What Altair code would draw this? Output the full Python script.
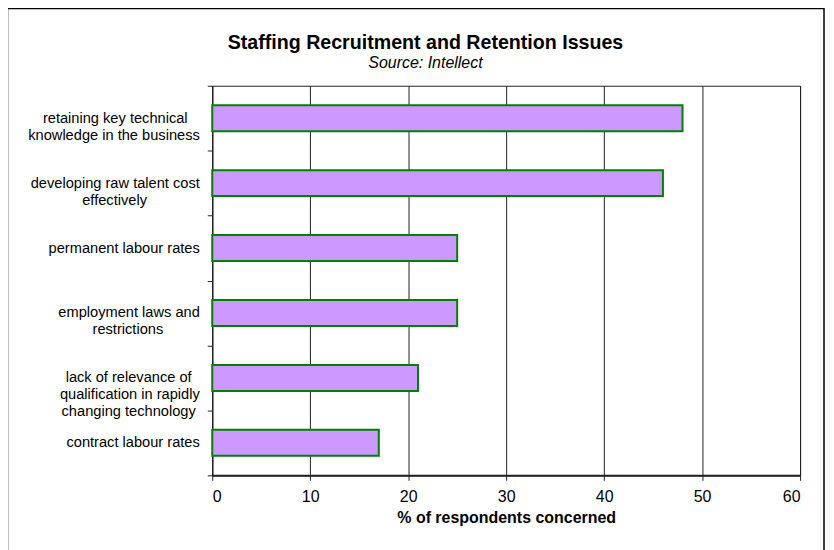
import json
import altair as alt
import pandas as pd

categories = [
    "retaining key technical|knowledge in the business",
    "developing raw talent cost|effectively",
    "permanent labour rates",
    "employment laws and|restrictions",
    "lack of relevance of|qualification in rapidly|changing technology",
    "contract labour rates",
]
values = [48, 46, 25, 25, 21, 17]
x_ticks = [0, 10, 20, 30, 40, 50, 60]
title_text = "Staffing Recruitment and Retention Issues"
subtitle_text = "Source: Intellect"
x_title = "% of respondents concerned"

FONT = "Liberation Sans"

# Approximate Arial/Liberation Sans glyph widths (1/1000 em) used to
# centre the lines of a multi-line label inside its right-aligned block.
_W = {" ": 278, "a": 556, "b": 556, "c": 500, "d": 556, "e": 556, "f": 278,
      "g": 556, "h": 556, "i": 222, "j": 222, "k": 500, "l": 222, "m": 833,
      "n": 556, "o": 556, "p": 556, "q": 556, "r": 333, "s": 500, "t": 278,
      "u": 556, "v": 500, "w": 722, "x": 500, "y": 500, "z": 500}


def _width(s):
    return sum(_W.get(c, 556) for c in s)


def centred_label(label):
    lines = label.split("|")
    widest = max(_width(l) for l in lines)
    out = []
    for l in lines:
        pad = int(round((widest - _width(l)) / 2 / 278))
        out.append(l + "\u00a0" * pad + ("\u200b" if pad else ""))
    return "|".join(out)


display = {c: centred_label(c) for c in categories}
label_expr = "split(" + " : ".join(
    f"datum.label == {json.dumps(c)} ? {json.dumps(display[c])}" for c in categories
) + " : datum.label, '|')"

df = pd.DataFrame({"issue": categories, "pct": values})

bars = alt.Chart(df).mark_bar(
    color="#CC99FF", stroke="#008000", strokeWidth=2,
    height=alt.RelativeBandSize(band=0.4)
).encode(
    x=alt.X("pct:Q",
            scale=alt.Scale(domain=[0, 60], nice=False, zero=True),
            axis=alt.Axis(values=x_ticks, title=x_title, grid=True,
                          gridColor="#222222", gridWidth=1,
                          domainColor="#222222", domainWidth=2,
                          tickColor="#222222", tickSize=5, tickWidth=1,
                          labelFontSize=16, labelPadding=8, labelColor="black",
                          labelFont=FONT, titleFont=FONT, titleFontSize=16,
                          titleFontWeight="bold", titleColor="black",
                          titlePadding=5)),
    y=alt.Y("issue:N", sort=categories,
            scale=alt.Scale(paddingInner=0, paddingOuter=0),
            axis=alt.Axis(title=None, labelExpr=label_expr,
                          tickBand="extent", tickSize=5, tickColor="#222222",
                          domainColor="#222222", domainWidth=1,
                          labelFontSize=14.7, labelFont=FONT, labelColor="black",
                          labelLineHeight=17, labelPadding=8, labelLimit=300,
                          labelAlign="right", labelBaseline="middle")),
)

frame_df = pd.DataFrame({"k": [0]})
border = alt.Chart(frame_df).mark_rect(
    fill=None, stroke="black", strokeWidth=1.5, clip=False
).encode(
    x=alt.value(-205.5), x2=alt.value(614),
    y=alt.value(-77.5), y2=alt.value(480),
)

title_df = pd.DataFrame({"t": [title_text]})
title = alt.Chart(title_df).mark_text(
    font=FONT, fontSize=19.7, fontWeight="bold", color="black",
    align="center", baseline="middle"
).encode(text="t:N", x=alt.value(214), y=alt.value(-43))

sub_df = pd.DataFrame({"t": [subtitle_text]})
subtitle = alt.Chart(sub_df).mark_text(
    font=FONT, fontSize=16, fontStyle="italic", color="black",
    align="center", baseline="middle"
).encode(text="t:N", x=alt.value(214), y=alt.value(-23))

chart = alt.layer(bars, border, title, subtitle).properties(
    width=590, height=391,
    autosize=alt.AutoSizeParams(type="none"),
    padding={"left": 205, "top": 77, "right": 26, "bottom": 90},
).configure_view(stroke="#222222", strokeWidth=1)

chart.save("out.html", embed_options={"renderer": "svg", "actions": False})
